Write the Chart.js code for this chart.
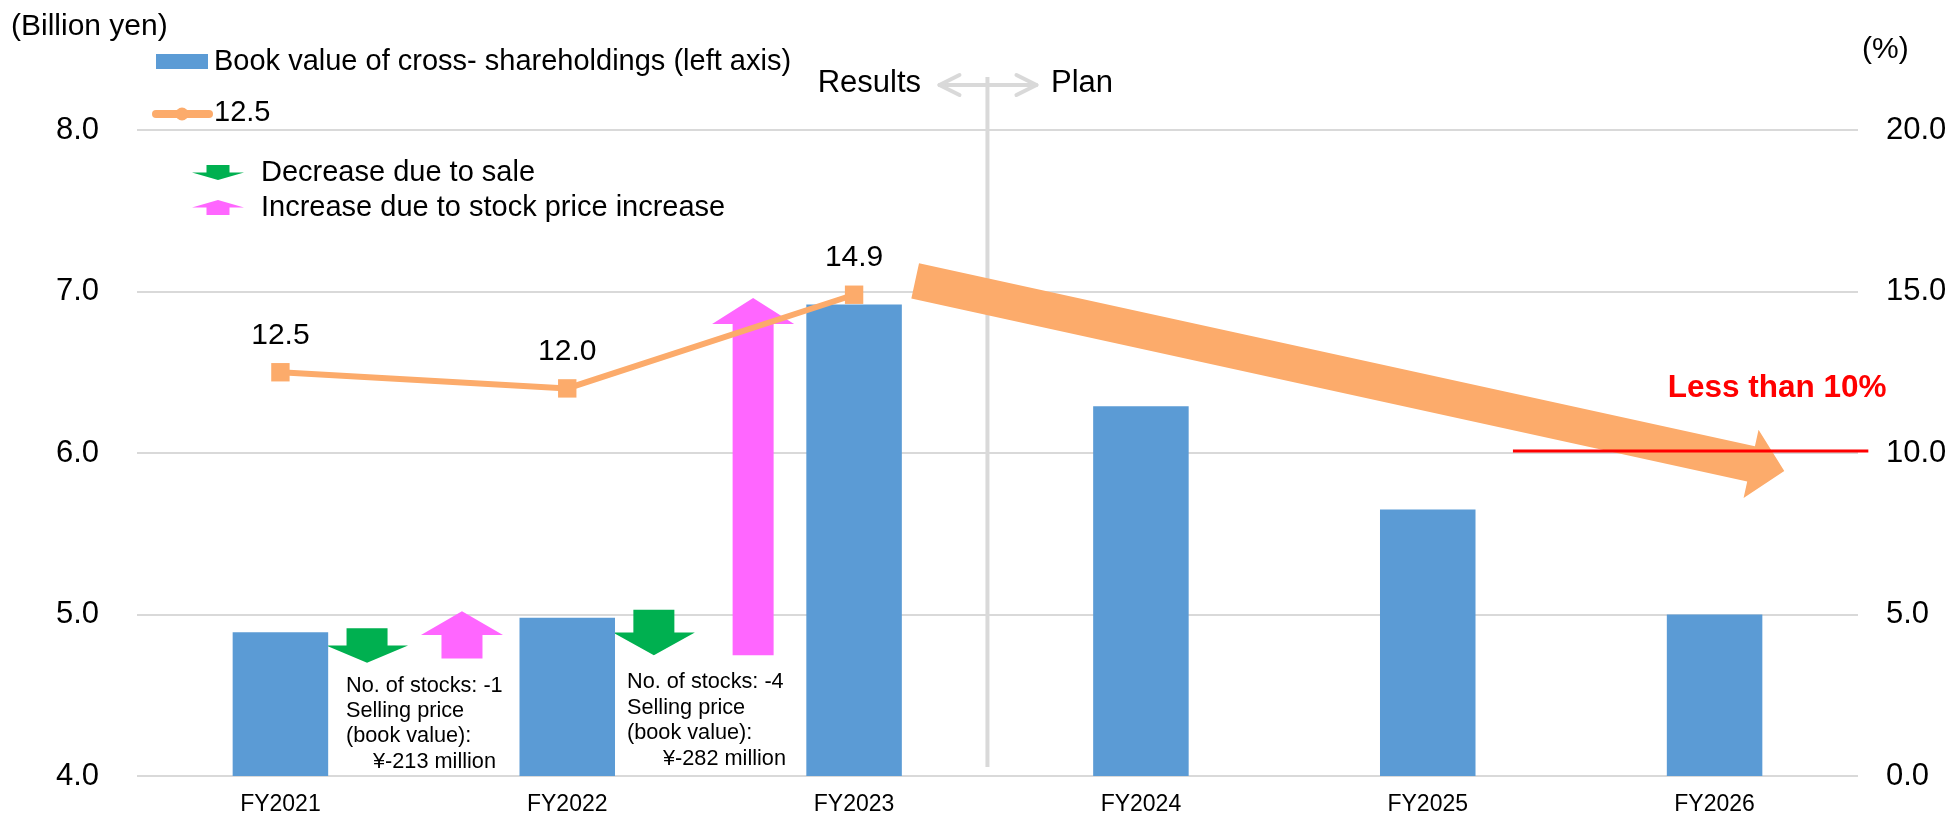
<!DOCTYPE html>
<html><head><meta charset="utf-8">
<script src="https://cdn.jsdelivr.net/npm/chart.js@4.4.1/dist/chart.umd.min.js"></script>
<style>html,body{margin:0;padding:0;background:#fff;}#wrap{width:1950px;height:815px;position:relative}</style>
</head><body><div id="wrap"><canvas id="c" width="1950" height="815"></canvas></div>
<script>
// ---------------- data ----------------
const categories = ['FY2021', 'FY2022', 'FY2023', 'FY2024', 'FY2025', 'FY2026'];
const bookValue = [4.89, 4.98, 6.92, 6.29, 5.65, 5.00];          // billion yen (left axis)
const ratioPct = [12.5, 12.0, 14.9, null, null, null];            // % (right axis)
const leftTicks = [4, 5, 6, 7, 8];
const rightTicks = [0, 5, 10, 15, 20];
const saleDecrease = [0.213, 0.282];   // billion yen decrease due to sale (FY21->22, FY22->23)
const targetPct = 10;                  // "Less than 10%"
const trendFromPct = 15.33;            // plan trend arrow start (%)
const trendToPct = 9.44;               // plan trend arrow end (%)
const saleNotes = [
  ['No. of stocks: -1', 'Selling price', '(book value):', '¥-213 million'],
  ['No. of stocks: -4', 'Selling price', '(book value):', '¥-282 million']
];
const barLabel = 'Book value of cross- shareholdings (left axis)';
const lineLabel = '12.5';

// ---------------- styling ----------------
const FONT = "'Liberation Sans', Arial, sans-serif";
const BLUE = '#5B9BD5', ORANGE = '#FCAB6B', GREEN = '#00B050', PINK = '#FF66FF', GRID = '#D9D9D9';

function arrowV(ctx, x, yFrom, yTo, bodyW, headW, headLen, color) {
  const dir = yTo > yFrom ? 1 : -1;
  const len = Math.abs(yTo - yFrom);
  const hl = Math.min(headLen, len / 2);
  const yb = yTo - dir * hl;
  ctx.beginPath();
  ctx.moveTo(x - bodyW / 2, yFrom);
  ctx.lineTo(x + bodyW / 2, yFrom);
  ctx.lineTo(x + bodyW / 2, yb);
  ctx.lineTo(x + headW / 2, yb);
  ctx.lineTo(x, yTo);
  ctx.lineTo(x - headW / 2, yb);
  ctx.lineTo(x - bodyW / 2, yb);
  ctx.closePath();
  ctx.fillStyle = color;
  ctx.fill();
}
function arrowAlong(ctx, x0, y0, x1, y1, sw, hw, hl, color) {
  const dx = x1 - x0, dy = y1 - y0, L = Math.hypot(dx, dy);
  const ux = dx / L, uy = dy / L, nx = -uy, ny = ux;
  const bx = x1 - ux * hl, by = y1 - uy * hl;
  ctx.beginPath();
  ctx.moveTo(x0 + nx * sw / 2, y0 + ny * sw / 2);
  ctx.lineTo(bx + nx * sw / 2, by + ny * sw / 2);
  ctx.lineTo(bx + nx * hw / 2, by + ny * hw / 2);
  ctx.lineTo(x1, y1);
  ctx.lineTo(bx - nx * hw / 2, by - ny * hw / 2);
  ctx.lineTo(bx - nx * sw / 2, by - ny * sw / 2);
  ctx.lineTo(x0 - nx * sw / 2, y0 - ny * sw / 2);
  ctx.closePath();
  ctx.fillStyle = color;
  ctx.fill();
}
function txt(ctx, s, x, y, size, opts = {}) {
  ctx.save();
  ctx.font = (opts.bold ? 'bold ' : '') + size + 'px ' + FONT;
  ctx.fillStyle = opts.color || '#000';
  ctx.textAlign = opts.align || 'left';
  ctx.textBaseline = opts.baseline || 'middle';
  ctx.fillText(s, x, y);
  ctx.restore();
}

const decorPlugin = {
  id: 'decor',
  beforeDatasetsDraw(chart) {
    const ctx = chart.ctx, xs = chart.scales.x, ys = chart.scales.y;
    ctx.save();
    // Results | Plan separator
    const sx = xs.getPixelForValue(2.465);
    ctx.strokeStyle = GRID; ctx.lineWidth = 4;
    ctx.beginPath(); ctx.moveTo(sx, 77); ctx.lineTo(sx, ys.getPixelForValue(4.055)); ctx.stroke();
    // double arrow
    ctx.lineWidth = 4; ctx.lineCap = 'round'; ctx.lineJoin = 'round';
    ctx.beginPath(); ctx.moveTo(sx - 48, 85); ctx.lineTo(sx + 49, 85); ctx.stroke();
    ctx.beginPath(); ctx.moveTo(sx - 28, 75); ctx.lineTo(sx - 48, 85); ctx.lineTo(sx - 28, 95); ctx.stroke();
    ctx.beginPath(); ctx.moveTo(sx + 29, 75); ctx.lineTo(sx + 49, 85); ctx.lineTo(sx + 29, 95); ctx.stroke();
    // sale (green) and price (pink) arrows between bars
    saleDecrease.forEach((d, i) => {
      const top = bookValue[i] + (i === 0 ? 0.025 : 0.05);
      arrowV(ctx, xs.getPixelForValue(i + 0.302), ys.getPixelForValue(top), ys.getPixelForValue(top - d), 41, 82, 26, GREEN);
      const from = bookValue[i] - d + 0.05;
      const to = bookValue[i + 1] + 0.04;
      arrowV(ctx, xs.getPixelForValue(i + (i === 0 ? 0.633 : 0.648)), ys.getPixelForValue(from), ys.getPixelForValue(to), 41, 82, 26, PINK);
    });
    ctx.restore();
  },
  afterDatasetsDraw(chart) {
    const ctx = chart.ctx, xs = chart.scales.x, y1 = chart.scales.y1;
    ctx.save();
    // plan trend arrow
    arrowAlong(ctx, xs.getPixelForValue(2.213), y1.getPixelForValue(trendFromPct),
      xs.getPixelForValue(5.243), y1.getPixelForValue(trendToPct), 36, 70, 34, ORANGE);
    // target line
    ctx.strokeStyle = '#FF0000'; ctx.lineWidth = 3;
    const ty = y1.getPixelForValue(targetPct) - 2;
    ctx.beginPath(); ctx.moveTo(xs.getPixelForValue(4.297), ty); ctx.lineTo(xs.getPixelForValue(5.536), ty); ctx.stroke();
    txt(ctx, 'Less than 10%', xs.getPixelForValue(5.218), ty - 63, 31.5, { bold: true, color: '#FF0000', align: 'center' });
    // line data labels
    const meta = chart.getDatasetMeta(1);
    meta.data.forEach((pt, i) => {
      if (ratioPct[i] == null) return;
      txt(ctx, ratioPct[i].toFixed(1), pt.x, pt.y - 37, 30, { align: 'center' });
    });
    // notes under sale arrows
    const noteX = [[346, 373], [627, 663]];
    const noteY = [[691.7, 716.9, 742.3, 767.7], [688.3, 713.5, 739, 764.5]];
    saleNotes.forEach((lines, b) => {
      lines.forEach((s, k) => txt(ctx, s, k === 3 ? noteX[b][1] : noteX[b][0], noteY[b][k], 21.7, { baseline: 'alphabetic' }));
    });
    // Results / Plan
    txt(ctx, 'Results', 921, 92, 31, { align: 'right', baseline: 'alphabetic' });
    txt(ctx, 'Plan', 1051, 92, 31, { baseline: 'alphabetic' });
    ctx.restore();
  },
  afterDraw(chart) {
    const ctx = chart.ctx;
    ctx.save();
    txt(ctx, '(Billion yen)', 11, 27, 30);
    txt(ctx, '(%)', 1862, 50, 30);
    // legend
    ctx.fillStyle = BLUE; ctx.fillRect(156, 54, 52, 15);
    txt(ctx, barLabel, 214, 62, 29);
    ctx.strokeStyle = ORANGE; ctx.lineWidth = 8; ctx.lineCap = 'round';
    ctx.beginPath(); ctx.moveTo(156, 114); ctx.lineTo(209, 114); ctx.stroke();
    ctx.fillStyle = ORANGE; ctx.beginPath(); ctx.arc(182, 114, 6.5, 0, Math.PI * 2); ctx.fill();
    txt(ctx, lineLabel, 214, 113, 29);
    arrowV(ctx, 218, 165, 180, 23, 52, 8, GREEN);
    txt(ctx, 'Decrease due to sale', 261, 173, 29);
    arrowV(ctx, 218, 215, 200, 23, 52, 8, PINK);
    txt(ctx, 'Increase due to stock price increase', 261, 208, 29);
    ctx.restore();
  }
};

Chart.defaults.font.family = FONT;
Chart.defaults.color = '#000';

function fixVertical(width) {
  return function (s) { s.width = width; s.paddingTop = 0; s.paddingBottom = 0; };
}

new Chart(document.getElementById('c'), {
  type: 'bar',
  data: {
    labels: categories,
    datasets: [
      { type: 'bar', label: barLabel, data: bookValue, yAxisID: 'y', backgroundColor: BLUE,
        borderWidth: 0, categoryPercentage: 1, barPercentage: 0.333, order: 2 },
      { type: 'line', label: lineLabel, data: ratioPct, yAxisID: 'y1', borderColor: ORANGE,
        backgroundColor: ORANGE, borderWidth: 6, pointStyle: 'rect', pointRadius: 13,
        pointBorderWidth: 0, pointHoverRadius: 13, spanGaps: false, tension: 0, order: 1 }
    ]
  },
  options: {
    responsive: false, animation: false, devicePixelRatio: 1,
    layout: { padding: { top: 130, left: 0, right: 0, bottom: 0 } },
    plugins: { legend: { display: false }, tooltip: { enabled: false }, title: { display: false } },
    scales: {
      x: {
        grid: { display: false, drawTicks: false }, border: { display: false },
        ticks: { font: { size: 23 }, padding: 15, color: '#000', maxRotation: 0 },
        afterFit(s) { s.height = 39; }
      },
      y: {
        position: 'left', min: leftTicks[0], max: leftTicks[leftTicks.length - 1],
        afterBuildTicks(s) { s.ticks = leftTicks.map(v => ({ value: v })); },
        ticks: { font: { size: 31 }, padding: 38, color: '#000', callback: v => Number(v).toFixed(1) },
        grid: { color: GRID, lineWidth: 2, drawTicks: false }, border: { display: false },
        afterFit: fixVertical(137)
      },
      y1: {
        position: 'right', min: rightTicks[0], max: rightTicks[rightTicks.length - 1],
        afterBuildTicks(s) { s.ticks = rightTicks.map(v => ({ value: v })); },
        ticks: { font: { size: 31 }, padding: 28, color: '#000', callback: v => Number(v).toFixed(1) },
        grid: { display: false, drawTicks: false }, border: { display: false },
        afterFit: fixVertical(92)
      }
    }
  },
  plugins: [decorPlugin]
});
</script>
</body></html>
